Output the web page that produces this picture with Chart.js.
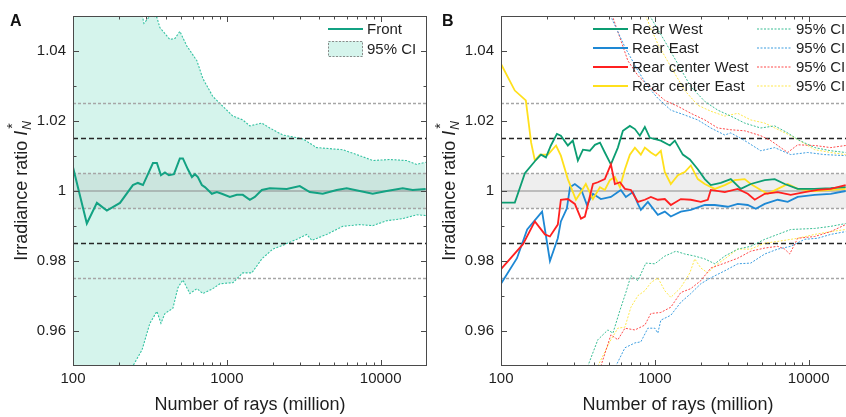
<!DOCTYPE html>
<html>
<head>
<meta charset="utf-8">
<script src="https://cdn.jsdelivr.net/npm/chart.js@4.4.1/dist/chart.umd.min.js"></script>
<style>
  html, body { margin: 0; padding: 0; background: #fff; overflow: hidden; width: 846px; height: 417px; }
  .panel { position: absolute; top: 0; width: 432px; height: 417px; }
  #pa { left: 0; }
  #pb { left: 428px; }
</style>
</head>
<body>
<div class="panel" id="pa"><canvas id="ca" width="432" height="417"></canvas></div>
<div class="panel" id="pb"><canvas id="cb" width="432" height="417"></canvas></div>
<script>
// axes
const xRange = [100, 20000];
const xTickValues = [100, 1000, 10000];
const yTickValues = [0.96, 0.98, 1, 1.02, 1.04];
const xTitle = 'Number of rays (million)';

// reference levels
const unityLevel = 1;
const bandLevels = [1.005, 0.995];
const blackLevels = [1.015, 0.985];
const grayLevels = [1.025, 0.975];

// panel A - front
const aFrontN = [100, 123, 143, 166, 202, 245, 264, 285, 331, 351, 373, 396, 420, 453, 495, 518, 558, 593, 620, 648, 688, 720, 799, 861, 928, 1046, 1161, 1270, 1411, 1520, 1688, 1902, 2453, 2979, 3459, 4202, 5180, 6014, 7305, 8870, 10940, 13900, 16140, 19600];
const aFrontVal = [1.0068, 0.9907, 0.9966, 0.9944, 0.9966, 1.0017, 1.0023, 1.0017, 1.008, 1.008, 1.0045, 1.0053, 1.0045, 1.0048, 1.0093, 1.0093, 1.0062, 1.004, 1.0048, 1.004, 1.0017, 1.0011, 0.9992, 0.9997, 0.9992, 0.9983, 0.9989, 0.9989, 0.9975, 0.9983, 1.0003, 1.0008, 1.0006, 1.0014, 0.9997, 0.9992, 1.0003, 1.0008, 1.0, 0.9992, 1.0, 1.0008, 1.0003, 1.0006];
const aCiUpN = [100, 200, 260, 281, 289, 320, 351, 367, 426, 460, 495, 550, 639, 699, 811, 942, 1094, 1270, 1411, 1688, 1902, 2311, 3116, 3840, 5665, 7305, 8870, 11440, 14750, 17130, 19600];
const aCiUpVal = [1.15, 1.07, 1.053, 1.0505, 1.0479, 1.0502, 1.0496, 1.0467, 1.0433, 1.0436, 1.0456, 1.0414, 1.0372, 1.0321, 1.027, 1.0242, 1.0214, 1.0203, 1.0186, 1.0194, 1.018, 1.016, 1.0149, 1.0124, 1.0118, 1.0101, 1.0087, 1.009, 1.0087, 1.0076, 1.0082];
const aCiLoN = [100, 200, 245, 281, 316, 351, 373, 396, 446, 481, 518, 575, 639, 699, 811, 901, 1094, 1270, 1453, 1688, 1990, 2311, 2848, 3307, 3564, 4461, 5665, 7305, 8870, 10940, 13900, 17130, 19600];
const aCiLoVal = [0.86, 0.935, 0.95, 0.9546, 0.9622, 0.9656, 0.9622, 0.965, 0.9665, 0.9724, 0.9746, 0.9707, 0.9721, 0.9707, 0.9721, 0.9735, 0.9738, 0.9766, 0.9766, 0.9806, 0.9834, 0.9845, 0.9862, 0.9876, 0.9859, 0.9876, 0.9899, 0.9904, 0.9901, 0.9915, 0.9921, 0.9932, 0.993];

// panel B - rear
const bWestN = [100, 123, 143, 166, 182, 196, 211, 231, 245, 272, 293, 316, 341, 378, 408, 440, 473, 518, 575, 620, 688, 742, 799, 861, 928, 1094, 1252, 1349, 1520, 1688, 1902, 2112, 2311, 2683, 3116, 3617, 4202, 5180, 6014, 6987, 8484, 10940, 13900, 17390];
const bWestVal = [0.9967, 0.9967, 1.0051, 1.0085, 1.0104, 1.0096, 1.013, 1.0163, 1.0158, 1.013, 1.0144, 1.0087, 1.0118, 1.0115, 1.0132, 1.0138, 1.011, 1.0076, 1.0124, 1.0172, 1.0186, 1.0177, 1.0158, 1.0183, 1.0152, 1.0144, 1.013, 1.0144, 1.0104, 1.009, 1.0062, 1.0034, 1.0017, 1.0023, 1.0034, 1.0006, 1.002, 1.0031, 1.0034, 1.002, 1.0006, 1.0006, 1.0008, 1.0011];
const bEastN = [100, 127, 148, 185, 208, 234, 245, 268, 281, 302, 331, 362, 396, 446, 518, 601, 648, 720, 776, 811, 901, 1046, 1161, 1270, 1475, 1713, 2112, 2453, 2979, 3459, 4017, 4528, 5180, 6292, 7305, 8484, 10940, 13900, 17390];
const bEastVal = [0.9735, 0.9808, 0.989, 0.9941, 0.98, 0.9865, 0.9913, 0.995, 1.0011, 1.002, 1.0006, 0.996, 0.9992, 0.9977, 0.9983, 1.0003, 0.9983, 0.9997, 0.9963, 0.9946, 0.9969, 0.9932, 0.9941, 0.9927, 0.9941, 0.9946, 0.996, 0.996, 0.9955, 0.9963, 0.996, 0.9949, 0.9963, 0.9975, 0.9969, 0.9983, 0.9989, 0.9992, 1.0];
const bCWestN = [100, 139, 166, 193, 208, 234, 245, 272, 302, 331, 351, 396, 426, 473, 518, 550, 593, 639, 699, 776, 861, 942, 1046, 1161, 1270, 1475, 1713, 1990, 2209, 2311, 2848, 3459, 4017, 4461, 5180, 6292, 7640, 9419, 11440, 13900, 17390];
const bCWestVal = [0.9777, 0.9848, 0.9913, 0.9876, 0.987, 0.9904, 0.9975, 0.9977, 0.9963, 0.9921, 0.9927, 1.002, 1.0025, 1.0034, 1.0076, 1.002, 1.0025, 1.0006, 1.0003, 0.9969, 0.9975, 0.9983, 0.9975, 0.9977, 0.996, 0.9977, 0.9975, 0.9969, 0.9975, 1.0003, 0.9997, 1.0006, 0.9992, 0.9975, 0.9992, 0.9997, 0.9989, 0.9997, 1.0003, 1.0006, 1.0017];
const bCEastN = [100, 123, 145, 157, 166, 179, 202, 228, 245, 272, 307, 331, 356, 396, 440, 473, 510, 550, 593, 639, 688, 742, 811, 861, 942, 1015, 1094, 1161, 1270, 1411, 1566, 1713, 1902, 2112, 2453, 2848, 3307, 3840, 4202, 4879, 5418, 6292, 7305, 8484, 10940, 13900, 17390];
const bCEastVal = [1.0363, 1.0287, 1.0259, 1.0138, 1.0087, 1.0104, 1.0104, 1.013, 1.0101, 1.0034, 0.9975, 0.9997, 1.002, 0.9977, 1.0011, 1.0003, 1.0031, 1.004, 1.0011, 1.0062, 1.0104, 1.0124, 1.0104, 1.0124, 1.011, 1.0101, 1.0115, 1.0054, 1.002, 1.0045, 1.0054, 1.0073, 1.0034, 1.002, 1.0006, 1.0017, 1.0031, 1.0034, 1.002, 1.0003, 0.9992, 1.0006, 1.002, 1.0006, 1.0, 1.0003, 1.0006];

// panel B - 95% CI bounds
const bWestUpN = [850, 928, 1161, 1411, 1713, 2112, 2566, 3116, 3840, 4879, 6014, 7305, 8484, 10940, 13900, 17390];
const bWestUpVal = [1.06, 1.05, 1.0428, 1.0363, 1.0298, 1.0256, 1.0231, 1.0214, 1.0194, 1.018, 1.0186, 1.0166, 1.0147, 1.0124, 1.0115, 1.011];
const bEastUpN = [450, 510, 639, 776, 901, 1046, 1270, 1566, 1902, 2311, 2848, 3116, 3840, 4879, 6014, 7640, 9851, 12700, 17390];
const bEastUpVal = [1.065, 1.0505, 1.0411, 1.0344, 1.0298, 1.0265, 1.0231, 1.0217, 1.0203, 1.018, 1.016, 1.0166, 1.0144, 1.0115, 1.0124, 1.0104, 1.011, 1.0104, 1.0101];
const bCWestUpN = [450, 530, 668, 776, 942, 1161, 1411, 1713, 2112, 2566, 3116, 3840, 4879, 5665, 7305, 8484, 10940, 13900, 17390];
const bCWestUpVal = [1.065, 1.05, 1.0372, 1.033, 1.0293, 1.0259, 1.0242, 1.0222, 1.0203, 1.018, 1.0175, 1.0172, 1.0158, 1.0144, 1.011, 1.0132, 1.013, 1.0124, 1.013];
const bCEastUpN = [800, 870, 1046, 1270, 1566, 1902, 2311, 2848, 3459, 4202, 5180, 6580, 7640, 8484, 10940, 13900, 17390];
const bCEastUpVal = [1.06, 1.05, 1.042, 1.0355, 1.0287, 1.0245, 1.0228, 1.0214, 1.0222, 1.0203, 1.0194, 1.0172, 1.0158, 1.0147, 1.0118, 1.011, 1.0104];

const bWestLoN = [330, 367, 426, 495, 534, 593, 648, 699, 776, 874, 1000, 1161, 1369, 1566, 1818, 2112, 2453, 2848, 3459, 4202, 5180, 6292, 7640, 10940, 13900, 17390];
const bWestLoVal = [0.94, 0.95, 0.9575, 0.9603, 0.9594, 0.9659, 0.971, 0.9758, 0.9744, 0.9794, 0.9792, 0.9814, 0.9828, 0.982, 0.9814, 0.9806, 0.9792, 0.9814, 0.9834, 0.9842, 0.9862, 0.9876, 0.989, 0.9893, 0.9899, 0.9907];
const bEastLoN = [500, 558, 639, 742, 811, 901, 1000, 1046, 1094, 1270, 1475, 1713, 1990, 2311, 2848, 3459, 4202, 5180, 6292, 7640, 9419, 11440, 13900, 17390];
const bEastLoVal = [0.94, 0.95, 0.9552, 0.9566, 0.9569, 0.9608, 0.9608, 0.9594, 0.9631, 0.9645, 0.9682, 0.9707, 0.9735, 0.9752, 0.9772, 0.9792, 0.9794, 0.982, 0.9834, 0.9842, 0.9862, 0.9865, 0.9876, 0.9884];
const bCWestLoN = [420, 446, 518, 575, 639, 742, 861, 942, 1094, 1270, 1475, 1713, 1990, 2311, 2848, 3459, 4202, 5180, 6292, 6987, 7527, 8484, 10940, 13900, 17390];
const bCWestLoVal = [0.94, 0.95, 0.9589, 0.9575, 0.9608, 0.9603, 0.9617, 0.965, 0.9653, 0.9668, 0.971, 0.9721, 0.9744, 0.978, 0.9794, 0.9808, 0.9828, 0.9837, 0.9842, 0.9834, 0.982, 0.9865, 0.987, 0.9884, 0.9904];
const bCEastLoN = [400, 426, 518, 575, 639, 699, 776, 861, 942, 1046, 1161, 1270, 1475, 1688, 1818, 1990, 2209, 2453, 2848, 3459, 4202, 5180, 6292, 8484, 10940, 13900, 17390];
const bCEastLoVal = [0.94, 0.95, 0.9575, 0.9608, 0.9611, 0.9668, 0.9701, 0.9715, 0.9738, 0.9752, 0.9715, 0.9696, 0.9724, 0.9766, 0.9806, 0.978, 0.9766, 0.9786, 0.9806, 0.9834, 0.9834, 0.9851, 0.9856, 0.9865, 0.9876, 0.9884, 0.989];

const FONT = "'Liberation Sans', Arial, Helvetica, sans-serif";
Chart.defaults.font.family = FONT;
Chart.defaults.color = '#1e1e1e';

function pts(xs, ys) {
  return xs.map((x, i) => ({ x: x, y: ys[i] }));
}

function hline(level) {
  return [{ x: xRange[0], y: level }, { x: xRange[1], y: level }];
}

function line(data, color, width, dash, order) {
  return {
    data: data, borderColor: color, borderWidth: width, borderDash: dash || [],
    pointRadius: 0, fill: false, tension: 0, order: order
  };
}

// band + reference lines shared by both panels
function referenceSets() {
  const gray = '#a6a6a6';
  const sets = [];
  const bandTop = line(hline(bandLevels[0]), gray, 1.3, [3, 2], 4);
  bandTop.fill = '+1';
  bandTop.backgroundColor = 'rgba(150,150,150,0.16)';
  sets.push(bandTop);
  sets.push(line(hline(bandLevels[1]), gray, 1.3, [3, 2], 4));
  grayLevels.forEach(v => sets.push(line(hline(v), gray, 1.3, [3, 2], 3)));
  blackLevels.forEach(v => sets.push(line(hline(v), '#262626', 1.4, [5, 3], 3)));
  sets.push(line(hline(unityLevel), '#8c8c8c', 1.1, [], 3));
  return sets;
}

const framePlugin = {
  id: 'frame',
  afterDraw(chart, args, opts) {
    const ctx = chart.ctx;
    const a = chart.chartArea;
    const xs = chart.scales.x, ys = chart.scales.y;
    ctx.save();
    ctx.strokeStyle = '#4a4a4a';
    ctx.lineWidth = 1;
    ctx.strokeRect(a.left + 0.5, a.top + 0.5, a.right - a.left - 1, a.bottom - a.top - 1);
    ctx.beginPath();
    for (let d = 100; d <= xRange[1]; d *= 10) {
      for (let m = 1; m <= 9; m++) {
        const v = d * m;
        if (v <= xRange[0] || v >= xRange[1]) continue;
        const px = Math.round(xs.getPixelForValue(v)) + 0.5;
        const len = m === 1 ? 6 : 3.5;
        ctx.moveTo(px, a.bottom); ctx.lineTo(px, a.bottom - len);
        ctx.moveTo(px, a.top); ctx.lineTo(px, a.top + len);
      }
    }
    for (let k = 96; k <= 104; k++) {
      const v = k / 100;
      const py = Math.round(ys.getPixelForValue(v)) + 0.5;
      const len = k % 2 === 0 ? 6 : 3.5;
      ctx.moveTo(a.left, py); ctx.lineTo(a.left + len, py);
      ctx.moveTo(a.right, py); ctx.lineTo(a.right - len, py);
    }
    ctx.stroke();

    // panel letter
    ctx.fillStyle = '#111';
    ctx.font = 'bold 16px ' + FONT;
    ctx.textBaseline = 'alphabetic';
    ctx.textAlign = 'left';
    ctx.fillText(opts.letter, opts.letterX, 26);

    // y title: Irradiance ratio I_N*
    const cy = (a.top + a.bottom) / 2;
    const base = 'Irradiance ratio ';
    ctx.font = '18px ' + FONT;
    const w1 = ctx.measureText(base).width;
    ctx.font = 'italic 18px ' + FONT;
    const w2 = ctx.measureText('I').width;
    ctx.font = 'italic 12px ' + FONT;
    const w3 = ctx.measureText('N').width;
    const total = w1 + w2 + 1 + w3;
    ctx.translate(opts.titleX, cy);
    ctx.rotate(-Math.PI / 2);
    ctx.fillStyle = '#1e1e1e';
    let p = -total / 2;
    ctx.font = '18px ' + FONT;
    ctx.fillText(base, p, 0);
    p += w1;
    ctx.font = 'italic 18px ' + FONT;
    ctx.fillText('I', p, 0);
    p += w2 + 1;
    ctx.font = 'italic 12px ' + FONT;
    ctx.fillText('N', p, 4);
    ctx.font = '14px ' + FONT;
    ctx.fillText('*', p + 1, -10);
    ctx.setTransform(1, 0, 0, 1, 0, 0);

    // legend
    ctx.font = '15px ' + FONT;
    ctx.textBaseline = 'middle';
    opts.legend.forEach(e => {
      if (e.kind === 'box') {
        ctx.fillStyle = e.fill;
        ctx.fillRect(e.x, e.y - 8, 35, 16);
        ctx.strokeStyle = '#8a8a8a';
        ctx.lineWidth = 1;
        ctx.setLineDash([2, 1.5]);
        ctx.strokeRect(e.x + 0.5, e.y - 7.5, 34, 15);
      } else {
        ctx.strokeStyle = e.color;
        ctx.lineWidth = e.kind === 'line' ? 2 : 1.2;
        ctx.setLineDash(e.kind === 'line' ? [] : [2, 1.5]);
        ctx.beginPath();
        ctx.moveTo(e.x, e.y); ctx.lineTo(e.x + 35, e.y);
        ctx.stroke();
      }
      ctx.setLineDash([]);
      ctx.fillStyle = '#1e1e1e';
      ctx.fillText(e.text, e.x + 39, e.y + 1);
    });
    ctx.restore();
  }
};

function makeChart(id, datasets, frameOpts) {
  return new Chart(document.getElementById(id), {
    type: 'line',
    data: { datasets: datasets },
    options: {
      responsive: false,
      animation: false,
      events: [],
      layout: { padding: { top: 12, right: 5, left: 0, bottom: 0 } },
      scales: {
        x: {
          type: 'logarithmic', min: xRange[0], max: xRange[1],
          grid: { display: false, drawTicks: false },
          border: { display: false },
          afterBuildTicks: s => { s.ticks = xTickValues.map(v => ({ value: v })); },
          afterFit: s => { s.height = 51; },
          ticks: { padding: 4, font: { size: 15 }, color: '#1e1e1e', maxRotation: 0, autoSkip: false, callback: v => String(v) },
          title: { display: true, text: xTitle, font: { size: 18 }, color: '#1e1e1e', padding: { top: 0, bottom: 1 } }
        },
        y: {
          min: 0.95, max: 1.05,
          grid: { display: false, drawTicks: false },
          border: { display: false },
          afterBuildTicks: s => { s.ticks = yTickValues.map(v => ({ value: v })); },
          afterFit: s => { s.width = 73; },
          ticks: { padding: 7, font: { size: 15 }, color: '#1e1e1e', callback: v => String(+v.toFixed(2)) }
        }
      },
      plugins: { legend: { display: false }, tooltip: { enabled: false }, frame: frameOpts }
    },
    plugins: [framePlugin]
  });
}

// panel A
const tealLine = '#13a283';
const tealCi = '#35c2a2';
const ciUp = line(pts(aCiUpN, aCiUpVal), tealCi, 1.1, [2, 1.5], 6);
ciUp.fill = '+1';
ciUp.backgroundColor = 'rgba(46,200,160,0.2)';
const setsA = [
  line(pts(aFrontN, aFrontVal), tealLine, 2, [], 1),
  ciUp,
  line(pts(aCiLoN, aCiLoVal), tealCi, 1.1, [2, 1.5], 6)
].concat(referenceSets());

makeChart('ca', setsA, {
  letter: 'A', letterX: 10, titleX: 27,
  legend: [
    { kind: 'line', color: tealLine, text: 'Front', x: 328, y: 29 },
    { kind: 'box', fill: 'rgba(46,200,160,0.2)', text: '95% CI', x: 328, y: 49 }
  ]
});

// panel B
const green = '#0c9d72', blue = '#1e88d4', red = '#ff2020', yellow = '#ffe01c';
const greenCi = '#38bd93', blueCi = '#3c9de0', redCi = '#ff4a4a', yellowCi = '#ffe84c';
const setsB = [
  line(pts(bCWestN, bCWestVal), red, 1.8, [], 1),
  line(pts(bWestN, bWestVal), green, 1.8, [], 1.2),
  line(pts(bCEastN, bCEastVal), yellow, 1.8, [], 1.4),
  line(pts(bEastN, bEastVal), blue, 1.8, [], 1.6),
  line(pts(bWestUpN, bWestUpVal), greenCi, 1, [2, 1.5], 2),
  line(pts(bEastUpN, bEastUpVal), blueCi, 1, [2, 1.5], 2),
  line(pts(bCWestUpN, bCWestUpVal), redCi, 1, [2, 1.5], 2),
  line(pts(bCEastUpN, bCEastUpVal), yellowCi, 1, [2, 1.5], 2),
  line(pts(bWestLoN, bWestLoVal), greenCi, 1, [2, 1.5], 2),
  line(pts(bEastLoN, bEastLoVal), blueCi, 1, [2, 1.5], 2),
  line(pts(bCWestLoN, bCWestLoVal), redCi, 1, [2, 1.5], 2),
  line(pts(bCEastLoN, bCEastLoVal), yellowCi, 1, [2, 1.5], 2)
].concat(referenceSets());

makeChart('cb', setsB, {
  letter: 'B', letterX: 14, titleX: 27,
  legend: [
    { kind: 'line', color: green, text: 'Rear West', x: 165, y: 29 },
    { kind: 'line', color: blue, text: 'Rear East', x: 165, y: 48 },
    { kind: 'line', color: red, text: 'Rear center West', x: 165, y: 67 },
    { kind: 'line', color: yellow, text: 'Rear center East', x: 165, y: 86 },
    { kind: 'dots', color: greenCi, text: '95% CI', x: 329, y: 29 },
    { kind: 'dots', color: blueCi, text: '95% CI', x: 329, y: 48 },
    { kind: 'dots', color: redCi, text: '95% CI', x: 329, y: 67 },
    { kind: 'dots', color: yellowCi, text: '95% CI', x: 329, y: 86 }
  ]
});
</script>
</body>
</html>
